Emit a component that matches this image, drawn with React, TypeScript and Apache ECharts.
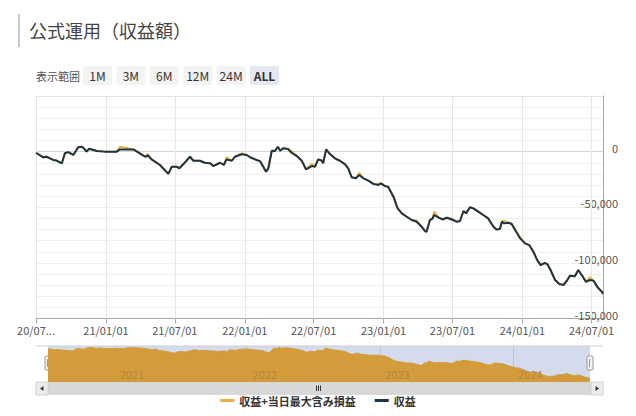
import React, { useEffect, useRef } from 'react';
import * as echarts from 'echarts';

const dates = [
  '2020-07-01','2020-07-20','2020-07-29','2020-08-07','2020-08-15','2020-08-24','2020-09-07','2020-09-15','2020-09-24','2020-10-07',
  '2020-10-20','2020-10-29','2020-11-04','2020-11-11','2020-11-18','2020-12-08','2020-12-29','2021-01-29','2021-02-07','2021-03-14',
  '2021-03-31','2021-04-14','2021-04-21','2021-05-01','2021-05-23','2021-06-14','2021-06-23','2021-07-06','2021-07-13','2021-07-23',
  '2021-08-10','2021-08-19','2021-09-05','2021-09-18','2021-10-02','2021-10-10','2021-10-28','2021-11-07','2021-11-14','2021-11-28',
  '2021-12-06','2021-12-24','2022-01-06','2022-01-15','2022-02-01','2022-02-10','2022-02-26','2022-03-04','2022-03-13','2022-03-21',
  '2022-03-29','2022-04-04','2022-04-12','2022-04-25','2022-05-04','2022-05-18','2022-05-31','2022-06-11','2022-06-26','2022-07-05',
  '2022-07-13','2022-07-22','2022-07-26','2022-08-03','2022-08-13','2022-08-26','2022-09-08','2022-09-22','2022-09-30','2022-10-09',
  '2022-10-20','2022-10-29','2022-11-09','2022-11-22','2022-12-05','2022-12-18','2022-12-25','2023-01-05','2023-01-13','2023-01-27',
  '2023-02-07','2023-02-18','2023-03-03','2023-03-16','2023-03-29','2023-04-11','2023-04-20','2023-04-24','2023-05-03','2023-05-10',
  '2023-05-14','2023-05-25','2023-06-05','2023-06-16','2023-06-29','2023-07-12','2023-07-21','2023-07-30','2023-08-06','2023-08-16',
  '2023-08-25','2023-09-07','2023-09-20','2023-10-03','2023-10-17','2023-10-25','2023-11-03','2023-11-08','2023-11-14','2023-11-25',
  '2023-12-04','2023-12-13','2023-12-26','2024-01-08','2024-01-19','2024-01-30','2024-02-09','2024-02-18','2024-02-29','2024-03-07',
  '2024-03-15','2024-03-27','2024-04-07','2024-04-18','2024-04-27','2024-05-05','2024-05-18','2024-05-27','2024-06-08','2024-06-16',
  '2024-06-27','2024-07-06','2024-07-17','2024-07-28','2024-07-31',
];

// 収益
const profit = [
  -1000, -5100, -4600, -6000, -7500, -8000, -10500, -1500, -400, -3000,
  3900, 4400, 3000, 0, 2600, 500, 0, 0, 2000, 2000,
  -1500, -4600, -3500, -7000, -12000, -20000, -13500, -13500, -15000, -11400,
  -4600, -8200, -8200, -10000, -10500, -13000, -10000, -12000, -7000, -8200,
  -4600, -2400, -3000, -5100, -7500, -8500, -18000, -15000, 800, 500,
  4400, 800, 3000, 2300, -1000, -4000, -8200, -16000, -13000, -13500,
  -7000, -8000, -10500, 2000, -2200, -6000, -8200, -11400, -15000, -23000,
  -24000, -21000, -24000, -26000, -29000, -30000, -28500, -31000, -31500, -40500,
  -51000, -55500, -58500, -61500, -63000, -67500, -71400, -72000, -61500, -60000,
  -57000, -59000, -61000, -59400, -61000, -63000, -62400, -53400, -55500, -50000,
  -51000, -54000, -57000, -60000, -67500, -70000, -69500, -63000, -64500, -64000,
  -65000, -70500, -78000, -82500, -84000, -90000, -97500, -102000, -100000, -101300,
  -106400, -115400, -119000, -120000, -116000, -111500, -112000, -106400, -112500, -117000,
  -115400, -116000, -122000, -126000, -128000,
];

// 収益+当日最大含み損益
const profitWithMaxUnrealized = [
  -1000, -5100, -4600, -6000, -7500, -8000, -10500, -1500, -400, -3000,
  3900, 4400, 3000, 0, 2600, 500, 0, 0, 4400, 2000,
  -1500, -4600, -2000, -7000, -12000, -20000, -13500, -13500, -15000, -11400,
  -4600, -8200, -8200, -10000, -10500, -13000, -10000, -12000, -5000, -8200,
  -4600, -1500, -3000, -5100, -7500, -8500, -18000, -15000, 800, 500,
  4400, 800, 3000, 2300, 500, -4000, -8200, -16000, -11000, -13500,
  -7000, -8000, -10500, 2000, -2200, -6000, -8200, -11400, -15000, -23000,
  -24000, -19000, -24000, -26000, -29000, -29000, -28500, -31000, -31500, -40500,
  -51000, -55500, -58500, -61500, -62000, -67500, -71400, -72000, -61500, -60000,
  -54000, -59000, -61000, -59400, -60000, -63000, -62400, -53400, -55500, -50000,
  -51000, -54000, -57000, -60000, -67500, -70000, -69500, -63000, -62000, -64000,
  -65000, -70500, -76500, -82500, -84000, -90000, -97500, -102000, -100000, -101300,
  -106400, -115400, -119000, -119000, -116000, -111500, -112000, -106400, -112500, -117000,
  -113000, -116000, -122000, -126000, -128000,
];

const xTickDates = ['2020-07-01', '2021-01-01', '2021-07-01', '2022-01-01', '2022-07-01', '2023-01-01', '2023-07-01', '2024-01-01', '2024-07-01'];
const navYearDates = ['2021-01-01', '2022-01-01', '2023-01-01', '2024-01-01'];
const rangeButtons = ['1M', '3M', '6M', '12M', '24M', 'ALL'];
const yMin = -150000;
const yMax = 50000;
const yMinorStep = 10000;
const yLabelStep = 50000;

const seriesNames = ['収益+当日最大含み損益', '収益'];

const FONT = '"Noto Sans CJK JP", "Noto Sans", sans-serif';

function ts(s: string): number {
  const [y, m, d] = s.split('-').map(Number);
  return new Date(y, m - 1, d).getTime();
}
function pad(n: number) {
  return n < 10 ? '0' + n : String(n);
}
function fmtDate(v: number) {
  const d = new Date(v);
  return `${String(d.getFullYear()).slice(2)}/${pad(d.getMonth() + 1)}/${pad(d.getDate())}`;
}

export default function App() {
  const ref = useRef<HTMLDivElement>(null);

  useEffect(() => {
    if (!ref.current) return;
    const chart = echarts.init(ref.current, undefined, { renderer: 'svg' });
    const minTs = ts(dates[0]);
    const maxTs = ts(dates[dates.length - 1]);
    const xTicks = xTickDates.map(ts);
    const navTicks = navYearDates.map(ts);

    const lineCount = Math.round((yMax - yMin) / yMinorStep) + 1;
    const splitColors: string[] = [];
    for (let i = 0; i < lineCount; i++) {
      const v = yMin + i * yMinorStep;
      splitColors.push(v === 0 ? '#d4d4d4' : v === yMax ? '#e2e2e2' : '#efefef');
    }

    const profitData = dates.map((d, i) => [ts(d), profit[i]]);
    const maxData = dates.map((d, i) => [ts(d), profitWithMaxUnrealized[i]]);

    const buttonGraphics: any[] = [];
    rangeButtons.forEach((label, i) => {
      const x = 83 + i * 33.4;
      const active = label === 'ALL';
      buttonGraphics.push({
        type: 'rect',
        shape: { x, y: 66, width: 29, height: 19, r: 2 },
        style: { fill: active ? '#e3e8f3' : '#f3f3f3' },
        silent: true,
      });
      buttonGraphics.push({
        type: 'text',
        x: x + 14.5,
        y: 75.5,
        style: {
          text: label,
          fill: '#333',
          fontSize: 12,
          fontFamily: FONT,
          fontWeight: active ? 'bold' : 'normal',
          align: 'center',
          verticalAlign: 'middle',
        },
        silent: true,
      });
    });

    const option: any = {
      animation: false,
      backgroundColor: '#ffffff',
      textStyle: { fontFamily: FONT },
      legend: {
        data: seriesNames,
        top: 390,
        left: 'center',
        icon: 'rect',
        itemWidth: 14,
        itemHeight: 3,
        itemGap: 19,
        textStyle: { fontSize: 11, fontWeight: 'bold', color: '#333', fontFamily: FONT },
        selectedMode: false,
      },
      grid: [
        { left: 36, right: 33, top: 96, height: 222.5, containLabel: false },
        { left: 48, top: 346, width: 542, height: 36, show: true, backgroundColor: '#d3dbed', borderWidth: 0 },
      ],
      xAxis: [
        {
          type: 'value',
          gridIndex: 0,
          min: minTs,
          max: maxTs,
          axisLine: { show: true, onZero: false, lineStyle: { color: '#a6a6a6' } },
          axisTick: { show: true, customValues: xTicks, length: 5, lineStyle: { color: '#a6a6a6' } },
          axisLabel: {
            customValues: xTicks,
            formatter: (v: number) => {
              const s = fmtDate(v);
              return v === minTs ? s.slice(0, 5) + '...' : s;
            },
            color: '#555',
            fontSize: 11,
            margin: 6,
            fontFamily: FONT,
          },
          splitLine: { show: false },
        },
        {
          type: 'value',
          gridIndex: 1,
          min: minTs,
          max: maxTs,
          axisLine: { show: false, onZero: false },
          axisTick: { show: false },
          axisLabel: {
            show: true,
            customValues: navTicks,
            inside: true,
            formatter: (v: number) => String(new Date(v).getFullYear()),
            align: 'left',
            padding: [0, 0, 0, 5],
            margin: 3,
            color: '#b08744',
            fontSize: 11,
            fontFamily: FONT,
          },
          splitLine: { show: false },
          z: 10,
        },
      ],
      yAxis: [
        {
          type: 'value',
          gridIndex: 0,
          position: 'right',
          min: yMin,
          max: yMax,
          interval: yMinorStep,
          axisLine: { show: true, lineStyle: { color: '#a6a6a6' } },
          axisTick: { show: false },
          axisLabel: {
            formatter: (v: number) => (v % yLabelStep === 0 && v < yMax ? v.toLocaleString('en-US') : ''),
            align: 'right',
            margin: 15,
            color: '#555',
            fontSize: 11,
            fontFamily: FONT,
            verticalAlign: 'bottom',
            lineHeight: 8,
          },
          splitLine: { show: true, lineStyle: { color: splitColors, width: 1 } },
        },
        {
          type: 'value',
          gridIndex: 1,
          min: -143000,
          max: 11000,
          show: false,
        },
      ],
      series: [
        {
          type: 'line',
          name: 'grid-v',
          xAxisIndex: 0,
          yAxisIndex: 0,
          data: profitData,
          showSymbol: false,
          symbol: 'none',
          lineStyle: { opacity: 0 },
          silent: true,
          z: 1,
          markLine: {
            silent: true,
            z: 1,
            symbol: ['none', 'none'],
            label: { show: false },
            lineStyle: { color: '#e6e6e6', width: 1, type: 'solid' },
            emphasis: { disabled: true },
            data: xTicks.map((t) => ({ xAxis: t })),
          },
        },
        {
          type: 'line',
          name: seriesNames[0],
          xAxisIndex: 0,
          yAxisIndex: 0,
          data: maxData,
          showSymbol: false,
          symbol: 'none',
          color: '#f0b03c',
          lineStyle: { color: '#f0b03c', width: 2 },
          z: 2,
        },
        {
          type: 'line',
          name: seriesNames[1],
          xAxisIndex: 0,
          yAxisIndex: 0,
          data: profitData,
          showSymbol: false,
          symbol: 'none',
          color: '#1c3448',
          lineStyle: { color: '#1c3448', width: 2 },
          z: 3,
        },
        {
          type: 'line',
          name: 'nav-grid',
          xAxisIndex: 1,
          yAxisIndex: 1,
          data: maxData,
          showSymbol: false,
          symbol: 'none',
          lineStyle: { opacity: 0 },
          silent: true,
          z: 1,
          markLine: {
            silent: true,
            z: 1,
            symbol: ['none', 'none'],
            label: { show: false },
            lineStyle: { color: '#bcc5d8', width: 1, type: 'solid' },
            emphasis: { disabled: true },
            data: navTicks.map((t) => ({ xAxis: t })),
          },
        },
        {
          type: 'line',
          name: 'navigator',
          xAxisIndex: 1,
          yAxisIndex: 1,
          data: maxData,
          showSymbol: false,
          symbol: 'none',
          silent: true,
          lineStyle: { color: '#d49b3a', width: 1 },
          areaStyle: { color: '#d49b3a', opacity: 1, origin: 'start' },
          z: 2,
        },
      ],
      graphic: [
        { type: 'rect', shape: { x: 18, y: 14, width: 2, height: 33 }, style: { fill: '#c8c8c8' }, silent: true },
        {
          type: 'text',
          x: 29,
          y: 30,
          style: { text: '公式運用（収益額）', fill: '#444', fontSize: 18, fontFamily: FONT, verticalAlign: 'middle' },
          silent: true,
        },
        {
          type: 'text',
          x: 36,
          y: 76,
          style: { text: '表示範囲', fill: '#555', fontSize: 11, fontFamily: FONT, verticalAlign: 'middle' },
          silent: true,
        },
        ...buttonGraphics,
        { type: 'line', shape: { x1: 36, y1: 346, x2: 603, y2: 346 }, style: { stroke: '#cfcfcf', lineWidth: 1 }, silent: true },
        { type: 'rect', shape: { x: 45, y: 356, width: 6, height: 14, r: 1 }, style: { fill: '#f4f4f4', stroke: '#999', lineWidth: 1 }, silent: true },
        { type: 'line', shape: { x1: 47.5, y1: 359, x2: 47.5, y2: 367 }, style: { stroke: '#999', lineWidth: 1 }, silent: true },
        { type: 'rect', shape: { x: 587, y: 356, width: 6, height: 14, r: 1 }, style: { fill: '#f4f4f4', stroke: '#999', lineWidth: 1 }, silent: true },
        { type: 'line', shape: { x1: 589.5, y1: 359, x2: 589.5, y2: 367 }, style: { stroke: '#999', lineWidth: 1 }, silent: true },
        { type: 'rect', shape: { x: 36, y: 382, width: 567, height: 13 }, style: { fill: '#d8d8d8' }, silent: true },
        { type: 'rect', shape: { x: 36, y: 382, width: 12, height: 13 }, style: { fill: '#ececec', stroke: '#d0d0d0', lineWidth: 1 }, silent: true },
        { type: 'rect', shape: { x: 591, y: 382, width: 12, height: 13 }, style: { fill: '#ececec', stroke: '#d0d0d0', lineWidth: 1 }, silent: true },
        { type: 'polygon', shape: { points: [[43.5, 386], [40, 388.5], [43.5, 391]] }, style: { fill: '#333' }, silent: true },
        { type: 'polygon', shape: { points: [[595.5, 386], [599, 388.5], [595.5, 391]] }, style: { fill: '#333' }, silent: true },
        { type: 'line', shape: { x1: 316.5, y1: 385.5, x2: 316.5, y2: 391 }, style: { stroke: '#333', lineWidth: 1 }, silent: true },
        { type: 'line', shape: { x1: 318.5, y1: 385.5, x2: 318.5, y2: 391 }, style: { stroke: '#333', lineWidth: 1 }, silent: true },
        { type: 'line', shape: { x1: 320.5, y1: 385.5, x2: 320.5, y2: 391 }, style: { stroke: '#333', lineWidth: 1 }, silent: true },
      ],
    };

    chart.setOption(option);
    return () => {
      chart.dispose();
    };
  }, []);

  return (
    <div
      ref={ref}
      style={{ position: 'absolute', left: 0, top: 0, width: 636, height: 416 }}
    />
  );
}
